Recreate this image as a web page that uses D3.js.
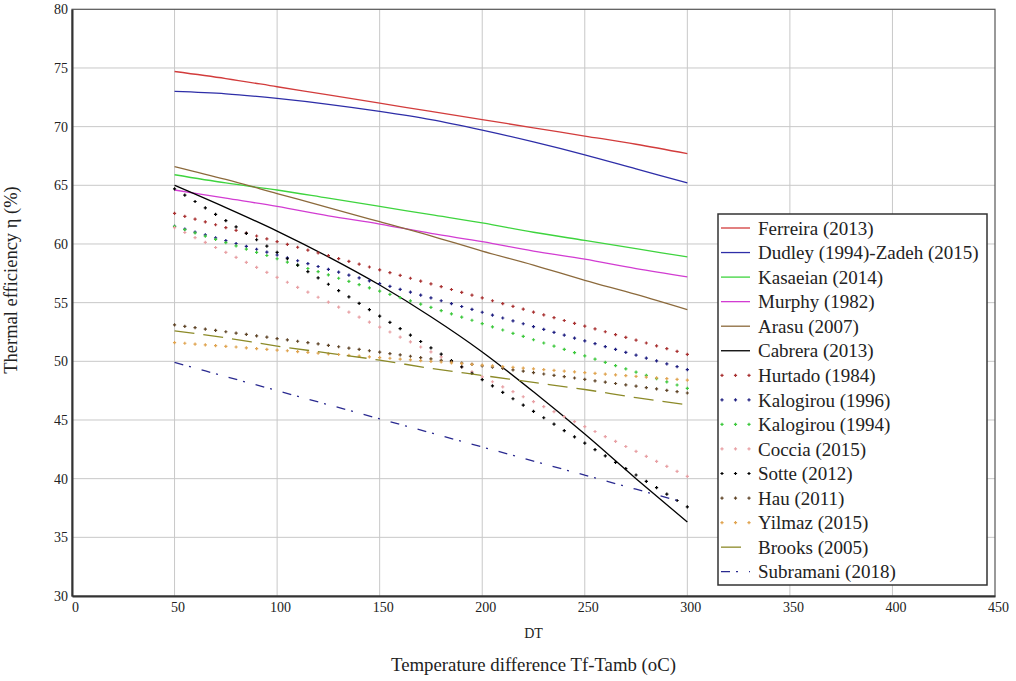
<!DOCTYPE html>
<html>
<head>
<meta charset="utf-8">
<script src="https://cdn.jsdelivr.net/npm/d3@7"></script>
<style>
body { margin: 0; background: #fff; }
svg text { font-family: "Liberation Serif", "DejaVu Serif", serif !important; fill: #222; }
</style>
</head>
<body>
<div id="chart"></div>
<script>
// x positions of the solid / dashed curves and of the "+" dotted series
const lineX = [50, 75, 100, 125, 150, 175, 200, 225, 250, 275, 300];
const dotX = [50, 55, 60, 65, 70, 75, 80, 85, 90, 95, 100, 105, 110, 115, 120, 125, 130, 135, 140, 145,
	150, 155, 160, 165, 170, 175, 180, 185, 190, 195, 200, 205, 210, 215, 220, 225, 230, 235, 240, 245,
	250, 255, 260, 265, 270, 275, 280, 285, 290, 295, 300];

const xTicks = [0, 50, 100, 150, 200, 250, 300, 350, 400, 450];
const yTicks = [30, 35, 40, 45, 50, 55, 60, 65, 70, 75, 80];

const ferreira = [74.7, 74.1, 73.4, 72.7, 72.0, 71.3, 70.6, 69.9, 69.2, 68.5, 67.7];
const dudley = [73.0, 72.8, 72.4, 71.9, 71.3, 70.6, 69.7, 68.7, 67.6, 66.4, 65.2];
const kasaeian = [65.9, 65.2, 64.6, 63.9, 63.2, 62.5, 61.8, 61.0, 60.3, 59.6, 58.9];
const murphy = [64.6, 63.9, 63.2, 62.4, 61.7, 60.9, 60.2, 59.4, 58.7, 57.9, 57.2];
const arasu = [66.6, 65.5, 64.3, 63.1, 61.9, 60.7, 59.4, 58.2, 56.9, 55.7, 54.4];
const cabrera = [65.0, 63.1, 61.1, 58.9, 56.5, 53.8, 50.8, 47.4, 43.8, 40.0, 36.3];
const brooks = [52.6, 52.0, 51.3, 50.7, 50.1, 49.4, 48.8, 48.2, 47.6, 46.9, 46.3];
const subramani = [49.9, 48.7, 47.5, 46.3, 45.1, 43.9, 42.7, 41.5, 40.3, 39.1, 37.9];

const hurtado = [62.60, 62.36, 62.12, 61.88, 61.64, 61.40, 61.16, 60.92, 60.68, 60.44, 60.20, 59.96, 59.72,
	59.48, 59.24, 59.00, 58.76, 58.52, 58.28, 58.04, 57.80, 57.56, 57.32, 57.08, 56.84, 56.60, 56.36, 56.12,
	55.88, 55.64, 55.40, 55.16, 54.92, 54.68, 54.44, 54.20, 53.96, 53.72, 53.48, 53.24, 53.00, 52.76, 52.52,
	52.28, 52.04, 51.80, 51.56, 51.32, 51.08, 50.84, 50.60];
const kalogirou96 = [61.50, 61.26, 61.01, 60.77, 60.52, 60.28, 60.04, 59.79, 59.55, 59.30, 59.06, 58.82,
	58.57, 58.33, 58.08, 57.84, 57.60, 57.35, 57.11, 56.86, 56.62, 56.38, 56.13, 55.89, 55.64, 55.40, 55.16,
	54.91, 54.67, 54.42, 54.18, 53.94, 53.69, 53.45, 53.20, 52.96, 52.72, 52.47, 52.23, 51.98, 51.74, 51.50,
	51.25, 51.01, 50.76, 50.52, 50.28, 50.03, 49.79, 49.54, 49.30];
const kalogirou94 = [61.50, 61.22, 60.95, 60.67, 60.40, 60.12, 59.84, 59.57, 59.29, 59.02, 58.74, 58.46,
	58.19, 57.91, 57.64, 57.36, 57.08, 56.81, 56.53, 56.26, 55.98, 55.70, 55.43, 55.15, 54.88, 54.60, 54.32,
	54.05, 53.77, 53.50, 53.22, 52.94, 52.67, 52.39, 52.12, 51.84, 51.56, 51.29, 51.01, 50.74, 50.46, 50.18,
	49.91, 49.63, 49.36, 49.08, 48.80, 48.53, 48.25, 47.98, 47.70];
const coccia = [61.40, 60.98, 60.55, 60.13, 59.70, 59.28, 58.86, 58.43, 58.01, 57.58, 57.16, 56.74, 56.31,
	55.89, 55.46, 55.04, 54.62, 54.19, 53.77, 53.34, 52.92, 52.50, 52.07, 51.65, 51.22, 50.80, 50.38, 49.95,
	49.53, 49.10, 48.68, 48.26, 47.83, 47.41, 46.98, 46.56, 46.14, 45.71, 45.29, 44.86, 44.44, 44.02, 43.59,
	43.17, 42.74, 42.32, 41.90, 41.47, 41.05, 40.62, 40.20];
const sotte = [64.70, 64.16, 63.62, 63.07, 62.53, 61.99, 61.45, 60.91, 60.36, 59.82, 59.28, 58.74, 58.20,
	57.65, 57.11, 56.57, 56.03, 55.49, 54.94, 54.40, 53.86, 53.32, 52.78, 52.23, 51.69, 51.15, 50.61, 50.07,
	49.52, 48.98, 48.44, 47.90, 47.36, 46.81, 46.27, 45.73, 45.19, 44.65, 44.10, 43.56, 43.02, 42.48, 41.94,
	41.39, 40.85, 40.31, 39.77, 39.23, 38.68, 38.14, 37.60];
const hau = [53.10, 52.98, 52.87, 52.75, 52.64, 52.52, 52.40, 52.29, 52.17, 52.06, 51.94, 51.82, 51.71,
	51.59, 51.48, 51.36, 51.24, 51.13, 51.01, 50.90, 50.78, 50.66, 50.55, 50.43, 50.32, 50.20, 50.08, 49.97,
	49.85, 49.74, 49.62, 49.50, 49.39, 49.27, 49.16, 49.04, 48.92, 48.81, 48.69, 48.58, 48.46, 48.34, 48.23,
	48.11, 48.00, 47.88, 47.76, 47.65, 47.53, 47.42, 47.30];
const yilmaz = [51.60, 51.54, 51.47, 51.41, 51.34, 51.28, 51.22, 51.15, 51.09, 51.02, 50.96, 50.90, 50.83,
	50.77, 50.70, 50.64, 50.58, 50.51, 50.45, 50.38, 50.32, 50.26, 50.19, 50.13, 50.06, 50.00, 49.94, 49.87,
	49.81, 49.74, 49.68, 49.62, 49.55, 49.49, 49.42, 49.36, 49.30, 49.23, 49.17, 49.10, 49.04, 48.98, 48.91,
	48.85, 48.78, 48.72, 48.66, 48.59, 48.53, 48.46, 48.40];

const series = [
	{ name: "Ferreira (2013)", xs: lineX, ys: ferreira, color: "#d23c3c", kind: "line" },
	{ name: "Dudley (1994)-Zadeh (2015)", xs: lineX, ys: dudley, color: "#2e2ea8", kind: "line" },
	{ name: "Kasaeian (2014)", xs: lineX, ys: kasaeian, color: "#3ed43e", kind: "line" },
	{ name: "Murphy (1982)", xs: lineX, ys: murphy, color: "#d23cd2", kind: "line" },
	{ name: "Arasu (2007)", xs: lineX, ys: arasu, color: "#8c6a3c", kind: "line" },
	{ name: "Cabrera (2013)", xs: lineX, ys: cabrera, color: "#000000", kind: "line" },
	{ name: "Hurtado (1984)", xs: dotX, ys: hurtado, color: "#a83030", kind: "dot" },
	{ name: "Kalogirou (1996)", xs: dotX, ys: kalogirou96, color: "#1e1e80", kind: "dot" },
	{ name: "Kalogirou (1994)", xs: dotX, ys: kalogirou94, color: "#3cc83c", kind: "dot" },
	{ name: "Coccia (2015)", xs: dotX, ys: coccia, color: "#e8a0a4", kind: "dot" },
	{ name: "Sotte (2012)", xs: dotX, ys: sotte, color: "#000000", kind: "dot" },
	{ name: "Hau (2011)", xs: dotX, ys: hau, color: "#5e4326", kind: "dot" },
	{ name: "Yilmaz (2015)", xs: dotX, ys: yilmaz, color: "#e0a450", kind: "dot" },
	{ name: "Brooks (2005)", xs: lineX, ys: brooks, color: "#8c8a28", kind: "line", dash: "20,9" },
	{ name: "Subramani (2018)", xs: lineX, ys: subramani, color: "#2a2a90", kind: "line", dash: "9,6,2,11" }
];

const W = 1016, H = 681;
const FONT = "Liberation Serif, DejaVu Serif, serif";
const svg = d3.select("#chart").append("svg").attr("width", W).attr("height", H)
	.attr("font-family", FONT);

const x = d3.scaleLinear().domain([0, 450]).range([72, 995]);
const y = d3.scaleLinear().domain([30, 80]).range([596, 9.3]);

// grid
const grid = svg.append("g").attr("class", "grid");
grid.selectAll(".vg").data(xTicks.slice(1, -1)).join("line")
	.attr("x1", d => x(d)).attr("x2", d => x(d))
	.attr("y1", y(30)).attr("y2", y(80))
	.attr("stroke", "#c8c8c8").attr("stroke-width", 1);
grid.selectAll(".hg").data(yTicks.slice(1, -1)).join("line")
	.attr("x1", x(0)).attr("x2", x(450))
	.attr("y1", d => y(d)).attr("y2", d => y(d))
	.attr("stroke", "#c8c8c8").attr("stroke-width", 1);

// frame
svg.append("rect")
	.attr("x", x(0)).attr("y", y(80))
	.attr("width", x(450) - x(0)).attr("height", y(30) - y(80))
	.attr("fill", "none").attr("stroke", "#555").attr("stroke-width", 1.2);

// axes
const yAxis = svg.append("g").attr("transform", `translate(${x(0)},0)`)
	.call(d3.axisLeft(y).tickValues(yTicks).tickSize(0).tickPadding(4));
const xAxis = svg.append("g").attr("transform", `translate(0,${y(30)})`)
	.call(d3.axisBottom(x).tickValues(xTicks).tickSize(0).tickPadding(6));
[xAxis, yAxis].forEach(function(a) {
	a.attr("font-family", FONT).attr("font-size", 14);
	a.select(".domain").attr("stroke", "#333").attr("stroke-width", 2);
	a.selectAll("text").attr("fill", "#333");
});
xAxis.selectAll("text").attr("dx", 3);

// series
const line = d3.line().curve(d3.curveMonotoneX);
const plus = "M-1.6,0H1.6M0,-1.6V1.6";

series.forEach(function(s) {
	const pts = s.xs.map((xv, i) => [x(xv), y(s.ys[i])]);
	if (s.kind === "line") {
		svg.append("path")
			.attr("d", line(pts))
			.attr("fill", "none")
			.attr("stroke", s.color)
			.attr("stroke-width", 1.3)
			.attr("stroke-dasharray", s.dash || null);
	} else {
		svg.append("g").selectAll("path").data(pts).join("path")
			.attr("transform", d => `translate(${d[0]},${d[1]})`)
			.attr("d", plus)
			.attr("stroke", s.color)
			.attr("stroke-width", 1.2);
	}
});

// legend
const legend = svg.append("g");
legend.append("rect")
	.attr("x", 718).attr("y", 214).attr("width", 269).attr("height", 371)
	.attr("fill", "#fff").attr("stroke", "#333").attr("stroke-width", 1.5);

series.forEach(function(s, i) {
	const ly = 228 + i * 24.55;
	const g = legend.append("g").attr("transform", `translate(0,${ly})`);
	if (s.kind === "line") {
		g.append("line").attr("x1", 721).attr("x2", 750).attr("y1", 0).attr("y2", 0)
			.attr("stroke", s.color).attr("stroke-width", 1.3)
			.attr("stroke-dasharray", s.dash || null);
	} else {
		g.selectAll("path").data([722, 735.5, 749]).join("path")
			.attr("transform", d => `translate(${d},0)`)
			.attr("d", plus).attr("stroke", s.color).attr("stroke-width", 1.2);
	}
	g.append("text").attr("x", 758).attr("y", 0).attr("dy", "0.35em")
		.attr("font-size", 19).text(s.name);
});

// titles
svg.append("text").attr("x", (x(0) + x(450)) / 2).attr("y", 638)
	.attr("text-anchor", "middle").attr("font-size", 14).text("DT");
svg.append("text").attr("x", (x(0) + x(450)) / 2).attr("y", 671)
	.attr("text-anchor", "middle").attr("font-size", 18.8).text("Temperature difference Tf-Tamb (oC)");
svg.append("text")
	.attr("transform", "translate(17,280) rotate(-90)")
	.attr("text-anchor", "middle").attr("font-size", 18.5).text("Thermal efficiency η (%)");
</script>
</body>
</html>
